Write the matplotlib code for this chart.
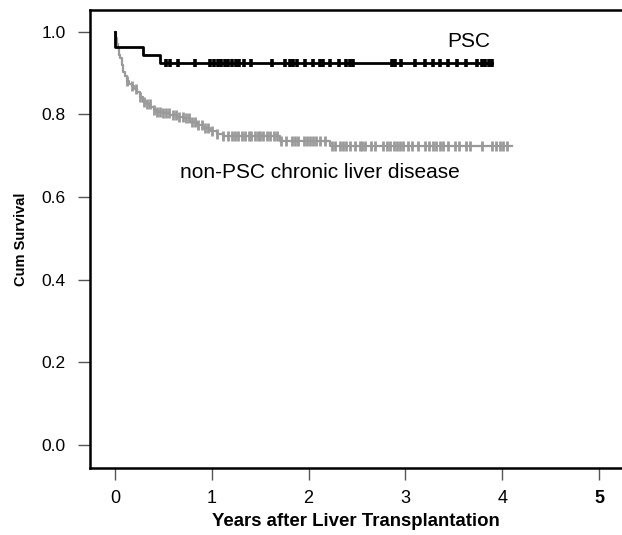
import numpy as np
import matplotlib
matplotlib.use("Agg")
import matplotlib.pyplot as plt

plt.rcParams["font.family"] = ["Liberation Sans", "DejaVu Sans"]

# PSC curve (event times / survival after each step)
psc_time = [0.0, 0.005, 0.29, 0.46]
psc_surv = [1.0, 0.964, 0.944, 0.924]
psc_end = 3.9
psc_censor = [0.53, 0.57, 0.65, 0.83, 0.98, 1.02, 1.06, 1.10, 1.14, 1.17, 1.21,
              1.25, 1.28, 1.33, 1.41, 1.62, 1.76, 1.81, 1.84, 1.88, 1.96, 2.05,
              2.12, 2.15, 2.22, 2.31, 2.39, 2.43, 2.46, 2.86, 2.89, 2.96, 3.10,
              3.20, 3.29, 3.36, 3.44, 3.53, 3.63, 3.74, 3.79, 3.82, 3.86, 3.89]

# non-PSC chronic liver disease curve
oth_time = [0.0, 0.01, 0.02, 0.034, 0.045, 0.052, 0.07, 0.086, 0.10, 0.12, 0.15,
            0.172, 0.20, 0.224, 0.258, 0.293, 0.33, 0.362, 0.40, 0.43, 0.50,
            0.568, 0.637, 0.706, 0.775, 0.844, 0.912, 0.981, 1.05, 1.12, 1.70, 2.22]
oth_surv = [1.0, 0.985, 0.97, 0.96, 0.945, 0.936, 0.92, 0.904, 0.892, 0.88, 0.873,
            0.868, 0.861, 0.855, 0.843, 0.831, 0.825, 0.819, 0.812, 0.807, 0.803,
            0.799, 0.795, 0.791, 0.783, 0.775, 0.767, 0.759, 0.753, 0.748, 0.736, 0.724]
oth_end = 4.10
oth_censor = [0.12, 0.18, 0.22, 0.26, 0.30, 0.33, 0.36, 0.40, 0.43, 0.46, 0.50,
              0.53, 0.56, 0.60, 0.63, 0.66, 0.70, 0.73, 0.76, 0.80, 0.83, 0.86,
              0.90, 0.93, 0.96, 1.00, 1.05, 1.12, 1.17, 1.21, 1.24, 1.27, 1.31,
              1.34, 1.38, 1.41, 1.45, 1.48, 1.50, 1.53, 1.57, 1.60, 1.64, 1.67,
              1.72, 1.77, 1.83, 1.86, 1.89, 1.95, 1.98, 2.01, 2.05, 2.08, 2.12,
              2.17, 2.24, 2.27, 2.32, 2.36, 2.39, 2.43, 2.48, 2.53, 2.55, 2.58,
              2.65, 2.69, 2.77, 2.81, 2.84, 2.88, 2.91, 2.94, 2.98, 3.03, 3.07,
              3.13, 3.20, 3.24, 3.29, 3.32, 3.36, 3.39, 3.44, 3.51, 3.55, 3.63,
              3.67, 3.79, 3.89, 3.94, 3.98, 4.01, 4.05]

x_ticks = [0, 1, 2, 3, 4, 5]
y_ticks = [0.0, 0.2, 0.4, 0.6, 0.8, 1.0]


def surv_at(times, survs, t):
    idx = np.searchsorted(times, t, side="right") - 1
    return np.array(survs)[idx]


def km_line(ax, times, survs, end, censor, color, lw, ms, mew):
    xs = list(times) + [end]
    ys = list(survs) + [survs[-1]]
    ax.plot(xs, ys, drawstyle="steps-post", color=color, lw=lw, zorder=3)
    ax.plot(censor, surv_at(times, survs, censor), ls="none", marker="|",
            color=color, ms=ms, mew=mew, zorder=3)


fig = plt.figure(figsize=(6.22, 5.35), dpi=100)
ax = fig.add_axes([90 / 622, 1 - 468 / 535, 1 - 90 / 622, (468 - 10) / 535])

km_line(ax, oth_time, oth_surv, oth_end, oth_censor, "#9a9a9a", 1.6, 6.5, 2.0)
km_line(ax, psc_time, psc_surv, psc_end, psc_censor, "black", 2.0, 6, 2.6)

ax.text(3.65, 0.976, "PSC", fontsize=15, ha="center", va="center")
ax.text(2.12, 0.659, "non-PSC chronic liver disease", fontsize=15,
        ha="center", va="center")

ax.set_xlim(-0.258, 5.238)
ax.set_ylim(-0.056, 1.053)
ax.set_xticks(x_ticks)
ax.set_yticks(y_ticks)
ax.set_xticklabels([str(v) for v in x_ticks], fontsize=13)
ax.set_yticklabels([f"{v:.1f}" for v in y_ticks], fontsize=12.5)
ax.get_xticklabels()[-1].set_fontweight("bold")
ax.tick_params(axis="both", length=8.5, width=1, color="#555555")
ax.tick_params(axis="x", pad=7)
ax.tick_params(axis="y", pad=9)

for side in ["left", "top", "bottom"]:
    ax.spines[side].set_linewidth(1.8)
ax.spines["right"].set_visible(False)

ax.set_xlabel("Years after Liver Transplantation", fontsize=13.4,
              fontweight="bold", labelpad=5)
ax.set_ylabel("Cum Survival", fontsize=10.5, fontweight="bold", labelpad=10)

fig.savefig("out.png", dpi=100)
